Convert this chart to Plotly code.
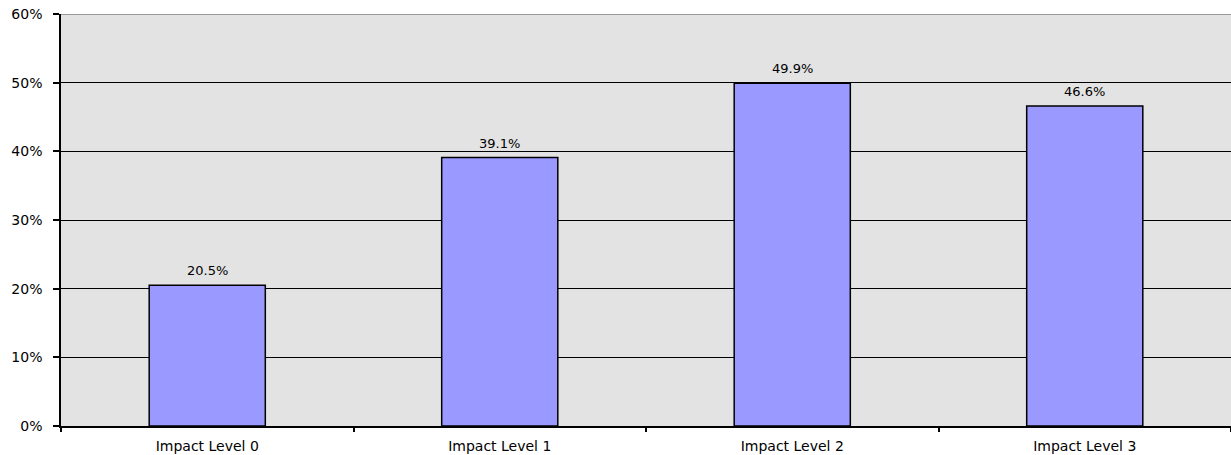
import plotly.graph_objects as go

categories = ["Impact Level 0", "Impact Level 1", "Impact Level 2", "Impact Level 3"]
values = [0.205, 0.391, 0.499, 0.466]
labels = ["20.5%", "39.1%", "49.9%", "46.6%"]

FONT = "DejaVu Sans, Liberation Sans, Arial, sans-serif"

fig = go.Figure()
fig.add_trace(go.Bar(
    x=categories, y=values,
    marker=dict(color="#9999FF", line=dict(color="black", width=1.5)),
    width=0.397, hoverinfo="skip",
))
for c, v, t in zip(categories, values, labels):
    fig.add_annotation(x=c, y=v, text=t, showarrow=False, yanchor="bottom",
                       yshift=5, font=dict(family=FONT, size=13, color="black"))
fig.add_shape(type="line", xref="paper", yref="y", x0=0, x1=1, y0=0.6, y1=0.6,
              line=dict(color="#808080", width=1.5))
fig.update_layout(
    template="none",
    width=1231, height=455,
    margin=dict(l=61, r=0, t=14, b=29, pad=0),
    paper_bgcolor="white", plot_bgcolor="#e3e3e3",
    font=dict(family=FONT, size=13, color="black"),
    showlegend=False,
    xaxis=dict(showline=True, linecolor="black", linewidth=1.5, ticks="outside",
               tickson="boundaries", ticklen=4, tickcolor="black", tickwidth=1.5,
               showgrid=False, ticklabelstandoff=6,
               tickfont=dict(family=FONT, size=14, color="black")),
    yaxis=dict(range=[0, 0.6], dtick=0.1, tickformat=".0%", showline=True,
               linecolor="black", linewidth=1.5, ticks="outside", ticklen=6,
               tickcolor="black", tickwidth=1.5, gridcolor="black", gridwidth=1,
               zeroline=False, ticklabelstandoff=8,
               tickfont=dict(family=FONT, size=14, color="black")),
)
fig.write_html("out.html", config={"displayModeBar": False},
               post_script="document.body.style.margin='0';")
